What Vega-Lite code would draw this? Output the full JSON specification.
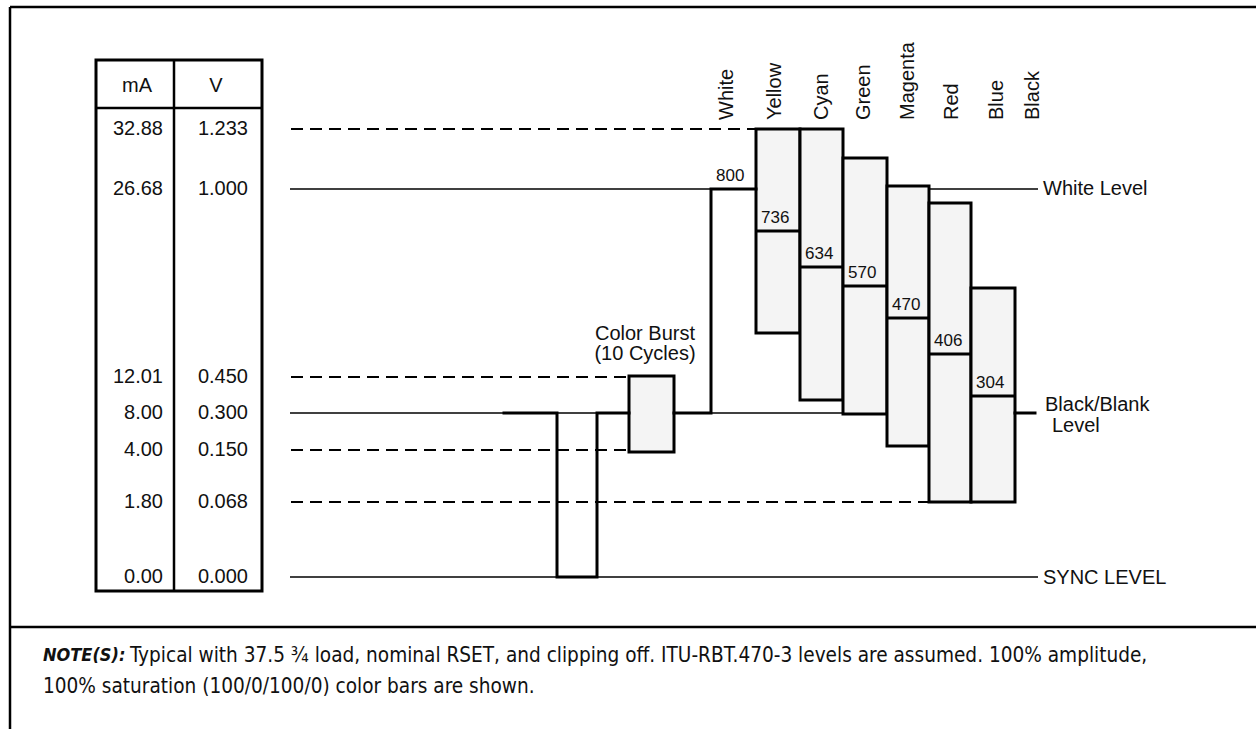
{
  "$schema": "https://vega.github.io/schema/vega-lite/v6.json",
  "width": 1256,
  "height": 729,
  "padding": 0,
  "autosize": {"type": "none"},
  "background": "white",
  "config": {"view": {"stroke": null}, "text": {"font": "Liberation Sans", "color": "#111"}},
  "datasets": {
    "frame": [
      {"x0": 10, "x1": 1256, "y0": 7, "y1": 7},
      {"x0": 10, "x1": 10, "y0": 7, "y1": 729},
      {"x0": 10, "x1": 1256, "y0": 627, "y1": 627}
    ],
    "levels": [
      {"mA": "32.88", "V": "1.233", "y": 129, "kind": "reference", "x0": 291, "x1": 755},
      {"mA": "26.68", "V": "1.000", "y": 189, "kind": "nominal", "x0": 290, "x1": 1038},
      {"mA": "12.01", "V": "0.450", "y": 377, "kind": "reference", "x0": 291, "x1": 629},
      {"mA": "8.00", "V": "0.300", "y": 413, "kind": "nominal", "x0": 290, "x1": 1035},
      {"mA": "4.00", "V": "0.150", "y": 450, "kind": "reference", "x0": 291, "x1": 629},
      {"mA": "1.80", "V": "0.068", "y": 502, "kind": "reference", "x0": 291, "x1": 929},
      {"mA": "0.00", "V": "0.000", "y": 577, "kind": "nominal", "x0": 290, "x1": 1038}
    ],
    "columns": [
      {"col": "mA", "center": 137, "right": 163},
      {"col": "V", "center": 216, "right": 248}
    ],
    "tableBox": [{"x0": 96, "x1": 262, "y0": 60, "y1": 591}],
    "tableLines": [
      {"x0": 174, "x1": 174, "y0": 60, "y1": 591},
      {"x0": 96, "x1": 262, "y0": 108, "y1": 108}
    ],
    "steps": [
      {"name": "White", "code": "800", "x0": 711, "x1": 755, "mid": 189},
      {"name": "Yellow", "code": "736", "x0": 756, "x1": 800, "top": 129, "mid": 231, "bottom": 333},
      {"name": "Cyan", "code": "634", "x0": 800, "x1": 843, "top": 129, "mid": 267, "bottom": 400},
      {"name": "Green", "code": "570", "x0": 843, "x1": 887, "top": 158, "mid": 286, "bottom": 414},
      {"name": "Magenta", "code": "470", "x0": 887, "x1": 929, "top": 186, "mid": 318, "bottom": 446},
      {"name": "Red", "code": "406", "x0": 929, "x1": 971, "top": 203, "mid": 354, "bottom": 502},
      {"name": "Blue", "code": "304", "x0": 971, "x1": 1015, "top": 288, "mid": 396, "bottom": 502}
    ],
    "burst": [{"x0": 629, "x1": 674, "top": 376, "bottom": 452}],
    "wave": [
      {"seg": "a", "i": 0, "x": 504, "y": 413},
      {"seg": "a", "i": 1, "x": 557, "y": 413},
      {"seg": "a", "i": 2, "x": 557, "y": 577},
      {"seg": "a", "i": 3, "x": 597, "y": 577},
      {"seg": "a", "i": 4, "x": 597, "y": 413},
      {"seg": "a", "i": 5, "x": 629, "y": 413},
      {"seg": "b", "i": 0, "x": 674, "y": 413},
      {"seg": "b", "i": 1, "x": 711, "y": 413},
      {"seg": "b", "i": 2, "x": 711, "y": 189},
      {"seg": "b", "i": 3, "x": 756, "y": 189},
      {"seg": "c", "i": 0, "x": 1015, "y": 413},
      {"seg": "c", "i": 1, "x": 1035, "y": 413}
    ],
    "names": [
      {"name": "White", "x": 727, "y": 120},
      {"name": "Yellow", "x": 775, "y": 120},
      {"name": "Cyan", "x": 822, "y": 120},
      {"name": "Green", "x": 864, "y": 120},
      {"name": "Magenta", "x": 908, "y": 120},
      {"name": "Red", "x": 952, "y": 120},
      {"name": "Blue", "x": 997, "y": 120},
      {"name": "Black", "x": 1033, "y": 120}
    ],
    "centerNotes": [
      {"text": "Color Burst", "x": 645, "y": 334},
      {"text": "(10 Cycles)", "x": 645, "y": 354}
    ],
    "sideNotes": [
      {"text": "White Level", "x": 1043, "y": 189},
      {"text": "Black/Blank", "x": 1045, "y": 405},
      {"text": "Level", "x": 1052, "y": 426},
      {"text": "SYNC LEVEL", "x": 1043, "y": 578}
    ],
    "footBold": [{"text": "NOTE(S):", "x": 43, "y": 656}],
    "footText": [
      {"text": "Typical with 37.5 ¾ load, nominal RSET, and clipping off. ITU-RBT.470-3 levels are assumed. 100% amplitude,", "x": 130, "y": 656},
      {"text": "100% saturation (100/0/100/0) color bars are shown.", "x": 43, "y": 687}
    ]
  },
  "layer": [
    {
      "data": {"name": "frame"},
      "mark": {"type": "rule", "strokeWidth": 2.5, "color": "black"},
      "encoding": {
        "x": {"field": "x0", "type": "quantitative", "scale": {"domain": [0, 1256], "nice": false, "zero": false}, "axis": null},
        "x2": {"field": "x1"},
        "y": {"field": "y0", "type": "quantitative", "scale": {"domain": [0, 729], "reverse": true, "nice": false, "zero": false}, "axis": null},
        "y2": {"field": "y1"}
      }
    },
    {
      "data": {"name": "levels"},
      "transform": [{"filter": "datum.kind == 'nominal'"}],
      "mark": {"type": "rule", "strokeWidth": 1.5, "color": "black"},
      "encoding": {
        "x": {"field": "x0", "type": "quantitative", "axis": null},
        "x2": {"field": "x1"},
        "y": {"field": "y", "type": "quantitative", "axis": null}
      }
    },
    {
      "data": {"name": "levels"},
      "transform": [{"filter": "datum.kind == 'reference'"}],
      "mark": {"type": "rule", "strokeWidth": 2, "strokeDash": [12, 7], "color": "black"},
      "encoding": {
        "x": {"field": "x0", "type": "quantitative", "axis": null},
        "x2": {"field": "x1"},
        "y": {"field": "y", "type": "quantitative", "axis": null}
      }
    },
    {
      "data": {"name": "steps"},
      "transform": [{"filter": "datum.name != 'White'"}],
      "mark": {"type": "rect", "fill": "#f4f4f4", "stroke": "black", "strokeWidth": 3},
      "encoding": {
        "x": {"field": "x0", "type": "quantitative", "axis": null},
        "x2": {"field": "x1"},
        "y": {"field": "top", "type": "quantitative", "axis": null},
        "y2": {"field": "bottom"}
      }
    },
    {
      "data": {"name": "steps"},
      "transform": [{"filter": "datum.name != 'White'"}],
      "mark": {"type": "rule", "strokeWidth": 3, "color": "black"},
      "encoding": {
        "x": {"field": "x0", "type": "quantitative", "axis": null},
        "x2": {"field": "x1"},
        "y": {"field": "mid", "type": "quantitative", "axis": null}
      }
    },
    {
      "data": {"name": "burst"},
      "mark": {"type": "rect", "fill": "#f4f4f4", "stroke": "black", "strokeWidth": 3},
      "encoding": {
        "x": {"field": "x0", "type": "quantitative", "axis": null},
        "x2": {"field": "x1"},
        "y": {"field": "top", "type": "quantitative", "axis": null},
        "y2": {"field": "bottom"}
      }
    },
    {
      "data": {"name": "wave"},
      "mark": {"type": "line", "strokeWidth": 3, "color": "black", "strokeJoin": "miter", "strokeCap": "square"},
      "encoding": {
        "x": {"field": "x", "type": "quantitative", "axis": null},
        "y": {"field": "y", "type": "quantitative", "axis": null},
        "detail": {"field": "seg"},
        "order": {"field": "i", "type": "quantitative"}
      }
    },
    {
      "data": {"name": "tableBox"},
      "mark": {"type": "rect", "filled": false, "stroke": "black", "strokeWidth": 3},
      "encoding": {
        "x": {"field": "x0", "type": "quantitative", "axis": null},
        "x2": {"field": "x1"},
        "y": {"field": "y0", "type": "quantitative", "axis": null},
        "y2": {"field": "y1"}
      }
    },
    {
      "data": {"name": "tableLines"},
      "mark": {"type": "rule", "strokeWidth": 2.5, "color": "black"},
      "encoding": {
        "x": {"field": "x0", "type": "quantitative", "axis": null},
        "x2": {"field": "x1"},
        "y": {"field": "y0", "type": "quantitative", "axis": null},
        "y2": {"field": "y1"}
      }
    },
    {
      "data": {"name": "columns"},
      "mark": {"type": "text", "fontSize": 20, "align": "center", "baseline": "middle"},
      "encoding": {
        "x": {"field": "center", "type": "quantitative", "axis": null},
        "y": {"datum": 86, "type": "quantitative", "axis": null},
        "text": {"field": "col"}
      }
    },
    {
      "data": {"name": "levels"},
      "transform": [
        {"fold": ["mA", "V"], "as": ["col", "value"]},
        {"lookup": "col", "from": {"data": {"name": "columns"}, "key": "col", "fields": ["right"]}}
      ],
      "mark": {"type": "text", "fontSize": 20, "align": "right", "baseline": "middle"},
      "encoding": {
        "x": {"field": "right", "type": "quantitative", "axis": null},
        "y": {"field": "y", "type": "quantitative", "axis": null},
        "text": {"field": "value"}
      }
    },
    {
      "data": {"name": "steps"},
      "mark": {"type": "text", "fontSize": 17, "align": "left", "baseline": "alphabetic", "dx": 5, "dy": -8},
      "encoding": {
        "x": {"field": "x0", "type": "quantitative", "axis": null},
        "y": {"field": "mid", "type": "quantitative", "axis": null},
        "text": {"field": "code"}
      }
    },
    {
      "data": {"name": "names"},
      "mark": {"type": "text", "fontSize": 20, "angle": 270, "align": "left", "baseline": "middle"},
      "encoding": {
        "x": {"field": "x", "type": "quantitative", "axis": null},
        "y": {"field": "y", "type": "quantitative", "axis": null},
        "text": {"field": "name"}
      }
    },
    {
      "data": {"name": "centerNotes"},
      "mark": {"type": "text", "fontSize": 20, "align": "center", "baseline": "middle"},
      "encoding": {
        "x": {"field": "x", "type": "quantitative", "axis": null},
        "y": {"field": "y", "type": "quantitative", "axis": null},
        "text": {"field": "text"}
      }
    },
    {
      "data": {"name": "sideNotes"},
      "mark": {"type": "text", "fontSize": 20, "align": "left", "baseline": "middle"},
      "encoding": {
        "x": {"field": "x", "type": "quantitative", "axis": null},
        "y": {"field": "y", "type": "quantitative", "axis": null},
        "text": {"field": "text"}
      }
    },
    {
      "data": {"name": "footBold"},
      "mark": {"type": "text", "font": "DejaVu Sans Condensed, Liberation Sans", "fontSize": 18, "fontWeight": "bold", "fontStyle": "italic", "align": "left", "baseline": "middle"},
      "encoding": {
        "x": {"field": "x", "type": "quantitative", "axis": null},
        "y": {"field": "y", "type": "quantitative", "axis": null},
        "text": {"field": "text"}
      }
    },
    {
      "data": {"name": "footText"},
      "mark": {"type": "text", "font": "DejaVu Sans Condensed, Liberation Sans", "fontSize": 20.6, "align": "left", "baseline": "middle"},
      "encoding": {
        "x": {"field": "x", "type": "quantitative", "axis": null},
        "y": {"field": "y", "type": "quantitative", "axis": null},
        "text": {"field": "text"}
      }
    }
  ]
}
